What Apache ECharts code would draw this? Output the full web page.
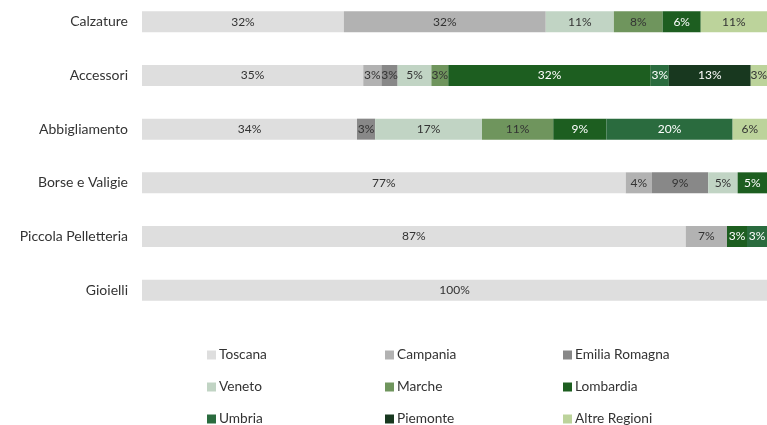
<!DOCTYPE html>
<html>
<head>
<meta charset="utf-8">
<script src="https://cdn.jsdelivr.net/npm/echarts@6/dist/echarts.min.js"></script>
<style>html,body{margin:0;padding:0;background:#fff;overflow:hidden;}#c{width:767px;height:430px;margin-top:-5px;}</style>
</head>
<body>
<div id="c"></div>
<script>
const categories = ['Calzature', 'Accessori', 'Abbigliamento', 'Borse e Valigie', 'Piccola Pelletteria', 'Gioielli'];
const regions = ['Toscana', 'Campania', 'Emilia Romagna', 'Veneto', 'Marche', 'Lombardia', 'Umbria', 'Piemonte', 'Altre Regioni'];
const toscana  = [32.3, 35.4, 34.4, 77.4, 87.0, 100];
const campania = [32.3, 2.9, 0, 4.2, 6.6, 0];
const emilia   = [0, 2.6, 2.9, 9.0, 0, 0];
const veneto   = [10.9, 5.4, 17.1, 4.7, 0, 0];
const marche   = [7.8, 2.7, 11.4, 0, 0, 0];
const lombardia= [6.1, 32.4, 8.5, 4.7, 3.2, 0];
const umbria   = [0, 2.9, 20.2, 0, 3.2, 0];
const piemonte = [0, 13.1, 0, 0, 0, 0];
const altre    = [10.6, 2.6, 5.5, 0, 0, 0];
const values = [toscana, campania, emilia, veneto, marche, lombardia, umbria, piemonte, altre];
const colors = ['#dedede', '#b2b2b2', '#888888', '#c1d4c4', '#6f955d', '#1d5e20', '#2a6b3e', '#18381f', '#bcd39b'];
const labelColors = ['#333333', '#333333', '#333333', '#333333', '#333333', '#ffffff', '#ffffff', '#ffffff', '#333333'];
const FONT = 'Lato';

const chart = echarts.init(document.getElementById('c'), null, {renderer: 'canvas'});
const series = regions.map((r, i) => ({
  name: r,
  type: 'bar',
  stack: 'total',
  barWidth: 21,
  itemStyle: {color: colors[i]},
  label: {
    show: true,
    position: 'inside',
    color: labelColors[i],
    fontFamily: FONT,
    fontSize: 12,
    formatter: p => p.value > 0 ? Math.round(p.value) + '%' : ''
  },
  emphasis: {disabled: true},
  data: values[i]
}));

// legend laid out in 3 columns x 3 rows (row-major order of regions)
const legends = regions.map((r, i) => ({
  orient: 'horizontal',
  left: 202 + (i % 3) * 178,
  top: 348 + Math.floor(i / 3) * 32,
  itemWidth: 9,
  itemHeight: 9,
  icon: 'rect',
  textStyle: {fontFamily: FONT, fontSize: 13.7, color: '#333333', padding: [0, 0, 0, -2]},
  data: [r]
}));

chart.setOption({
  animation: false,
  color: colors,
  grid: {left: 142, right: 0, top: 0, bottom: 108, containLabel: false},
  xAxis: {type: 'value', min: 0, max: 100, show: false},
  yAxis: {
    type: 'category',
    inverse: true,
    data: categories,
    axisLine: {show: false},
    axisTick: {show: false},
    axisLabel: {fontFamily: FONT, fontSize: 14, color: '#333333', margin: 14}
  },
  legend: legends,
  series: series
});
</script>
</body>
</html>
